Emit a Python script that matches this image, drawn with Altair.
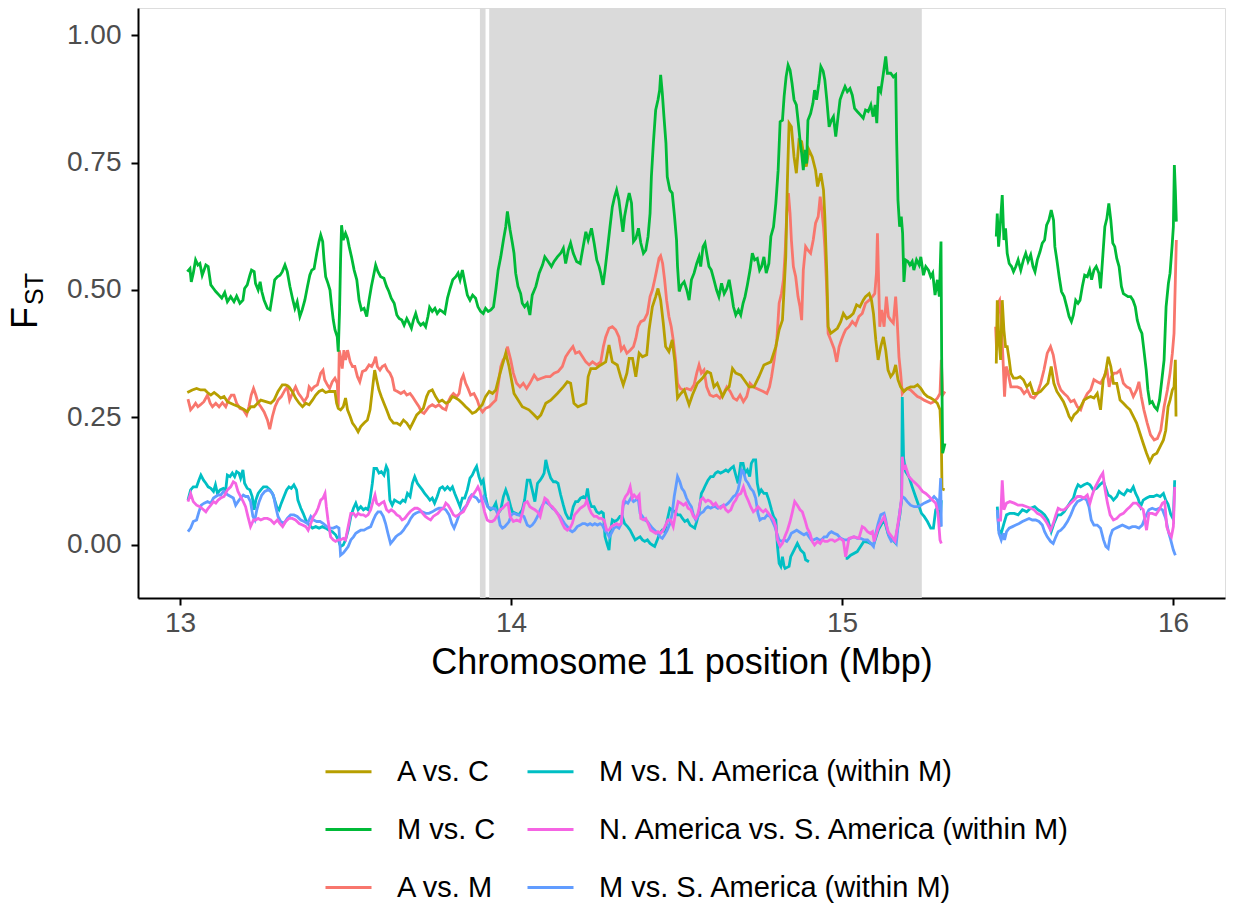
import altair as alt
import pandas as pd

# ---------------- data ----------------
SERIES = ["A vs. C", "M vs. C", "A vs. M",
          "M vs. N. America (within M)", "N. America vs. S. America (within M)",
          "M vs. S. America (within M)"]
COLORS = ["#B79F00", "#00BA38", "#F8766D", "#00BFC4", "#F564E3", "#619CFF"]
DRAW_ORDER = ["A vs. M", "A vs. C", "M vs. C", "M vs. N. America (within M)",
              "M vs. S. America (within M)", "N. America vs. S. America (within M)"]

SHADE_START = [13.906, 13.934]
SHADE_END = [13.923, 15.241]

X_TICKS = [13, 14, 15, 16]
Y_TICKS = [0.0, 0.25, 0.5, 0.75, 1.0]
X_DOMAIN = [12.873, 16.157]
Y_DOMAIN = [-0.104, 1.053]

# (position Mbp, Fst); None marks a gap in the series
M_VS_C = [(13.022,0.536),(13.030,0.542),(13.034,0.516),(13.040,0.533),(13.047,0.559),(13.054,0.549),(13.060,0.552),(13.067,0.529),(13.078,0.549),(13.085,0.546),(13.093,0.510),(13.101,0.503),(13.108,0.497),(13.118,0.490),(13.126,0.484),(13.135,0.495),(13.143,0.477),(13.153,0.487),(13.163,0.477),(13.171,0.488),(13.181,0.474),(13.190,0.480),(13.195,0.503),(13.203,0.510),(13.211,0.529),(13.216,0.539),(13.224,0.536),(13.228,0.513),(13.236,0.500),(13.242,0.516),(13.247,0.497),(13.254,0.480),(13.264,0.464),(13.272,0.461),(13.279,0.490),(13.286,0.520),(13.294,0.526),(13.302,0.529),(13.309,0.536),(13.317,0.549),(13.324,0.536),(13.332,0.507),(13.341,0.480),(13.347,0.464),(13.354,0.477),(13.362,0.448),(13.369,0.461),(13.377,0.480),(13.385,0.507),(13.392,0.529),(13.398,0.539),(13.405,0.542),(13.413,0.572),(13.420,0.595),(13.425,0.608),(13.431,0.595),(13.435,0.559),(13.440,0.526),(13.447,0.513),(13.453,0.500),(13.457,0.474),(13.463,0.441),(13.468,0.422),(13.475,0.408),(13.478,0.379),(13.482,0.461),(13.485,0.559),(13.488,0.627),(13.493,0.598),(13.500,0.611),(13.506,0.601),(13.511,0.585),(13.518,0.565),(13.526,0.539),(13.534,0.520),(13.541,0.480),(13.548,0.461),(13.556,0.464),(13.564,0.448),(13.571,0.480),(13.578,0.507),(13.584,0.526),(13.591,0.549),(13.598,0.536),(13.606,0.526),(13.616,0.523),(13.624,0.507),(13.631,0.497),(13.638,0.484),(13.647,0.474),(13.655,0.451),(13.662,0.444),(13.670,0.441),(13.677,0.431),(13.685,0.444),(13.692,0.435),(13.699,0.425),(13.705,0.441),(13.712,0.454),(13.719,0.438),(13.727,0.431),(13.735,0.435),(13.742,0.428),(13.749,0.448),(13.754,0.466),(13.762,0.458),(13.770,0.464),(13.777,0.454),(13.785,0.461),(13.792,0.458),(13.800,0.454),(13.808,0.484),(13.816,0.503),(13.824,0.520),(13.833,0.526),(13.840,0.533),(13.846,0.520),(13.853,0.539),(13.860,0.516),(13.868,0.490),(13.876,0.480),(13.884,0.490),(13.893,0.484),(13.900,0.467),(13.908,0.458),(13.916,0.454),(13.923,0.464),(13.931,0.458),(13.939,0.461),(13.947,0.467),(13.954,0.500),(13.961,0.539),(13.969,0.565),(13.977,0.598),(13.984,0.624),(13.989,0.654),
(13.997,0.618),(14.004,0.592),(14.009,0.572),(14.014,0.533),(14.021,0.507),(14.029,0.493),(14.034,0.474),(14.041,0.467),(14.049,0.474),(14.057,0.451),(14.064,0.490),(14.075,0.507),(14.085,0.533),(14.095,0.549),(14.102,0.565),(14.112,0.556),(14.122,0.546),(14.130,0.556),(14.140,0.565),(14.150,0.572),(14.158,0.582),(14.165,0.552),(14.173,0.578),(14.180,0.592),(14.188,0.572),(14.198,0.556),(14.209,0.552),(14.216,0.578),(14.226,0.614),(14.233,0.598),(14.243,0.621),(14.251,0.592),(14.259,0.559),(14.266,0.546),(14.271,0.533),(14.278,0.510),(14.284,0.539),(14.291,0.578),(14.299,0.624),(14.306,0.663),(14.313,0.683),(14.319,0.696),(14.326,0.676),(14.331,0.650),(14.338,0.614),(14.343,0.644),(14.352,0.676),(14.357,0.690),(14.364,0.670),(14.370,0.595),(14.377,0.601),(14.385,0.621),(14.392,0.592),(14.400,0.572),(14.407,0.578),(14.414,0.605),(14.420,0.650),(14.424,0.722),(14.430,0.788),(14.437,0.853),(14.444,0.873),(14.449,0.892),(14.452,0.922),(14.457,0.886),(14.462,0.840),(14.468,0.788),(14.472,0.722),(14.480,0.696),(14.487,0.690),(14.494,0.644),(14.500,0.598),(14.503,0.546),(14.508,0.497),(14.515,0.510),(14.523,0.516),(14.531,0.500),(14.538,0.480),(14.545,0.520),(14.553,0.533),(14.561,0.552),(14.568,0.565),(14.573,0.546),(14.580,0.585),(14.586,0.592),(14.591,0.572),(14.598,0.546),(14.605,0.539),(14.613,0.520),(14.621,0.500),(14.628,0.487),(14.636,0.513),(14.644,0.493),(14.652,0.503),(14.659,0.520),(14.666,0.493),(14.672,0.467),(14.679,0.451),(14.687,0.461),(14.694,0.451),(14.701,0.474),(14.707,0.487),(14.714,0.510),(14.722,0.539),(14.729,0.572),(14.736,0.559),(14.744,0.562),(14.751,0.539),(14.757,0.546),(14.764,0.565),(14.771,0.533),(14.779,0.552),(14.785,0.605),(14.793,0.624),(14.800,0.670),(14.807,0.735),(14.813,0.830),(14.820,0.833),(14.825,0.879),(14.831,0.918),(14.837,0.941),(14.843,0.931),(14.849,0.905),(14.855,0.873),(14.862,0.863),(14.868,0.827),(14.873,0.794),(14.878,0.768),(14.883,0.735),(14.888,0.775),(14.893,0.748),(14.897,0.833),(14.905,0.846),(14.912,0.866),(14.917,0.892),(14.923,0.873),(14.930,0.905),(14.936,0.938),(14.943,0.929),(14.948,0.912),(14.954,0.873),(14.961,0.820),(14.968,0.833),(14.974,0.840),(14.981,0.801),
(14.988,0.840),(14.994,0.873),(15.001,0.886),(15.009,0.899),(15.016,0.889),(15.024,0.895),(15.031,0.882),(15.038,0.856),(15.046,0.850),(15.056,0.843),(15.064,0.837),(15.071,0.853),(15.079,0.850),(15.087,0.863),(15.094,0.840),(15.100,0.863),(15.105,0.827),(15.110,0.899),(15.117,0.889),(15.125,0.925),(15.132,0.958),(15.137,0.925),(15.147,0.925),(15.155,0.918),(15.162,0.922),(15.165,0.794),(15.169,0.676),(15.174,0.624),(15.179,0.644),(15.183,0.611),(15.187,0.516),(15.192,0.559),(15.199,0.556),(15.205,0.549),(15.212,0.556),(15.217,0.539),(15.225,0.559),(15.233,0.549),(15.238,0.565),(15.246,0.529),(15.253,0.546),(15.261,0.539),(15.268,0.526),(15.274,0.533),(15.281,0.490),(15.288,0.520),(15.294,0.487),(15.299,0.595),(15.301,0.369),(15.304,0.180),(15.311,0.199),
None,
(15.466,0.605),(15.469,0.650),(15.473,0.585),(15.477,0.618),(15.484,0.686),(15.489,0.598),(15.494,0.621),(15.499,0.572),(15.505,0.552),(15.512,0.546),(15.518,0.536),(15.525,0.546),(15.532,0.559),(15.540,0.539),(15.548,0.559),(15.555,0.572),(15.562,0.556),(15.570,0.569),(15.577,0.546),(15.583,0.536),(15.590,0.559),(15.598,0.575),(15.605,0.592),(15.612,0.598),(15.618,0.627),(15.625,0.637),(15.632,0.657),(15.639,0.637),(15.643,0.585),(15.649,0.559),(15.656,0.526),(15.663,0.497),(15.671,0.487),(15.679,0.467),(15.686,0.448),(15.693,0.438),(15.699,0.451),(15.706,0.480),(15.713,0.474),(15.719,0.480),(15.726,0.507),(15.733,0.529),(15.741,0.526),(15.748,0.539),(15.754,0.520),(15.761,0.539),(15.768,0.546),(15.776,0.533),(15.781,0.503),(15.787,0.559),(15.794,0.624),(15.800,0.640),(15.806,0.670),(15.812,0.637),(15.818,0.592),(15.824,0.585),(15.830,0.562),(15.837,0.546),(15.844,0.507),(15.850,0.493),(15.857,0.490),(15.864,0.487),(15.872,0.487),(15.879,0.480),(15.886,0.467),(15.892,0.441),(15.899,0.425),(15.906,0.415),(15.912,0.382),(15.919,0.343),(15.924,0.304),(15.930,0.278),(15.937,0.281),(15.944,0.271),(15.952,0.265),(15.959,0.284),(15.965,0.317),(15.973,0.363),(15.979,0.467),(15.986,0.513),(15.991,0.533),(15.997,0.585),(16.001,0.624),(16.004,0.745),(16.007,0.696),(16.010,0.634)]

A_VS_C = [(13.022,0.299),(13.037,0.304),(13.050,0.307),(13.062,0.304),(13.075,0.304),(13.083,0.299),(13.093,0.294),(13.103,0.299),(13.113,0.294),(13.123,0.288),(13.133,0.291),(13.143,0.281),(13.153,0.278),(13.163,0.275),(13.178,0.271),(13.193,0.266),(13.203,0.261),(13.214,0.271),(13.224,0.271),(13.234,0.278),(13.244,0.284),(13.259,0.281),(13.274,0.278),(13.284,0.284),(13.296,0.301),(13.309,0.314),(13.319,0.314),(13.329,0.310),(13.339,0.301),(13.349,0.288),(13.360,0.278),(13.370,0.271),(13.380,0.278),(13.390,0.275),(13.400,0.284),(13.410,0.294),(13.420,0.301),(13.430,0.304),(13.440,0.299),(13.450,0.301),(13.460,0.301),(13.468,0.301),(13.473,0.278),(13.478,0.268),(13.485,0.265),(13.493,0.271),(13.500,0.288),(13.506,0.265),(13.514,0.252),(13.521,0.239),(13.529,0.232),(13.538,0.222),(13.546,0.232),(13.556,0.239),(13.566,0.245),(13.574,0.265),(13.581,0.304),(13.588,0.343),(13.594,0.324),(13.601,0.304),(13.608,0.291),(13.616,0.278),(13.624,0.265),(13.634,0.248),(13.645,0.239),(13.655,0.239),(13.665,0.235),(13.675,0.245),(13.685,0.239),(13.695,0.229),(13.705,0.242),(13.715,0.255),(13.725,0.261),(13.735,0.268),(13.745,0.291),(13.752,0.301),(13.762,0.304),(13.772,0.291),(13.782,0.281),(13.792,0.284),(13.803,0.278),(13.813,0.281),(13.823,0.291),(13.833,0.288),(13.843,0.284),(13.853,0.278),(13.863,0.271),(13.873,0.265),(13.883,0.258),(13.893,0.261),(13.903,0.268),(13.913,0.275),(13.923,0.291),(13.934,0.301),(13.944,0.297),(13.954,0.304),(13.964,0.330),(13.974,0.353),(13.984,0.376),(13.994,0.350),
(14.009,0.297),(14.034,0.271),(14.054,0.265),(14.070,0.255),(14.080,0.248),(14.090,0.255),(14.105,0.278),(14.120,0.284),(14.140,0.297),(14.158,0.310),(14.170,0.320),(14.180,0.317),(14.190,0.278),(14.202,0.271),(14.216,0.275),(14.226,0.278),(14.233,0.330),(14.241,0.346),(14.256,0.346),(14.271,0.353),(14.286,0.359),(14.296,0.392),(14.306,0.359),(14.321,0.353),(14.331,0.330),(14.339,0.314),(14.350,0.337),(14.357,0.366),(14.367,0.366),(14.377,0.330),(14.387,0.376),(14.397,0.369),(14.410,0.373),(14.417,0.422),(14.427,0.467),(14.437,0.487),(14.444,0.503),(14.452,0.480),(14.460,0.435),(14.467,0.389),(14.477,0.379),(14.487,0.402),(14.495,0.359),(14.503,0.288),(14.513,0.297),(14.523,0.304),(14.538,0.275),(14.548,0.294),(14.563,0.317),(14.578,0.327),(14.593,0.340),(14.603,0.337),(14.613,0.310),(14.623,0.317),(14.639,0.291),(14.649,0.304),(14.659,0.310),(14.669,0.346),(14.679,0.337),(14.694,0.333),(14.704,0.324),(14.719,0.310),(14.734,0.310),(14.749,0.330),(14.764,0.353),(14.785,0.359),(14.800,0.389),(14.810,0.422),(14.820,0.441),(14.830,0.565),(14.835,0.716),(14.840,0.827),(14.847,0.820),(14.855,0.761),(14.862,0.729),(14.870,0.794),(14.878,0.791),(14.885,0.761),(14.892,0.742),(14.900,0.775),(14.910,0.761),(14.920,0.735),(14.926,0.703),(14.936,0.729),(14.944,0.696),(14.948,0.644),(14.954,0.533),(14.958,0.428),(14.966,0.415),(14.976,0.420),(14.986,0.425),(14.996,0.438),
(15.004,0.454),(15.014,0.444),(15.024,0.448),(15.034,0.454),(15.044,0.471),(15.054,0.467),(15.064,0.480),(15.071,0.487),(15.082,0.493),(15.089,0.480),(15.095,0.454),(15.102,0.402),(15.109,0.363),(15.117,0.389),(15.125,0.408),(15.132,0.382),(15.139,0.343),(15.147,0.330),(15.155,0.337),(15.162,0.353),(15.169,0.324),(15.177,0.310),(15.187,0.301),(15.197,0.307),(15.207,0.310),(15.218,0.310),(15.228,0.314),(15.238,0.307),(15.248,0.297),(15.258,0.291),(15.268,0.288),(15.278,0.284),(15.288,0.278),(15.296,0.265),(15.300,0.206),(15.302,0.110),(15.310,0.108),
None,
(15.466,0.356),(15.469,0.480),(15.474,0.402),(15.479,0.363),(15.484,0.480),(15.489,0.422),(15.494,0.389),(15.499,0.389),(15.505,0.363),(15.510,0.337),(15.518,0.327),(15.528,0.327),(15.538,0.330),(15.548,0.324),(15.558,0.310),(15.568,0.317),(15.578,0.297),(15.588,0.297),(15.600,0.301),(15.612,0.310),(15.622,0.317),(15.632,0.350),(15.640,0.317),(15.649,0.301),(15.659,0.291),(15.669,0.281),(15.679,0.265),(15.686,0.252),(15.693,0.245),(15.701,0.255),(15.711,0.261),(15.721,0.271),(15.731,0.284),(15.741,0.288),(15.751,0.291),(15.761,0.288),(15.771,0.297),(15.781,0.265),(15.789,0.324),(15.796,0.337),(15.804,0.369),(15.812,0.350),(15.820,0.317),(15.830,0.317),(15.840,0.284),(15.850,0.278),(15.860,0.271),(15.870,0.265),(15.880,0.252),(15.890,0.239),(15.900,0.219),(15.910,0.199),(15.920,0.180),(15.930,0.163),(15.940,0.176),(15.951,0.180),(15.961,0.193),(15.971,0.206),(15.978,0.225),(15.985,0.271),(15.991,0.284),(15.998,0.304),(16.003,0.310),(16.007,0.363),(16.009,0.252)]

A_VS_M = [(13.024,0.286),(13.032,0.265),(13.040,0.271),(13.047,0.278),(13.054,0.271),(13.062,0.275),(13.072,0.281),(13.083,0.294),(13.091,0.278),(13.098,0.271),(13.108,0.278),(13.118,0.271),(13.128,0.279),(13.138,0.271),(13.146,0.284),(13.155,0.294),(13.163,0.294),(13.171,0.278),(13.181,0.268),(13.191,0.265),(13.201,0.255),(13.208,0.271),(13.215,0.294),(13.222,0.307),(13.229,0.294),(13.236,0.278),(13.244,0.271),(13.254,0.261),(13.264,0.245),(13.271,0.227),(13.279,0.252),(13.287,0.271),(13.296,0.284),(13.306,0.291),(13.317,0.304),(13.324,0.310),(13.331,0.284),(13.339,0.297),(13.349,0.310),(13.358,0.297),(13.365,0.291),(13.375,0.281),(13.385,0.291),(13.390,0.310),(13.397,0.304),(13.405,0.310),(13.415,0.314),(13.425,0.337),(13.432,0.343),(13.437,0.324),(13.445,0.314),(13.452,0.307),(13.460,0.320),(13.468,0.327),(13.475,0.317),(13.478,0.271),(13.481,0.382),(13.485,0.369),(13.490,0.346),(13.495,0.382),(13.500,0.363),(13.506,0.382),(13.514,0.359),(13.521,0.350),(13.528,0.350),(13.536,0.330),(13.543,0.320),(13.551,0.340),(13.561,0.343),(13.571,0.353),(13.579,0.350),(13.586,0.359),(13.591,0.369),(13.596,0.350),(13.604,0.343),(13.611,0.350),(13.619,0.353),(13.626,0.343),(13.634,0.337),(13.641,0.327),(13.648,0.304),(13.657,0.301),(13.667,0.297),(13.677,0.301),(13.685,0.294),(13.695,0.297),(13.702,0.291),(13.712,0.281),(13.722,0.271),(13.729,0.261),(13.737,0.258),(13.745,0.265),(13.752,0.271),(13.762,0.275),(13.772,0.271),(13.782,0.275),(13.793,0.268),(13.803,0.265),(13.810,0.281),(13.818,0.291),(13.826,0.297),(13.836,0.291),(13.843,0.297),(13.850,0.324),(13.856,0.333),(13.863,0.317),(13.870,0.307),(13.878,0.294),(13.888,0.297),(13.898,0.284),(13.906,0.268),(13.914,0.261),(13.923,0.268),(13.934,0.271),(13.944,0.278),(13.954,0.284),(13.962,0.317),(13.969,0.350),(13.976,0.363),(13.984,0.369),(13.989,0.389),
(13.999,0.363),(14.007,0.337),(14.017,0.317),(14.027,0.310),(14.037,0.317),(14.047,0.307),(14.057,0.317),(14.070,0.333),(14.080,0.324),(14.092,0.327),(14.105,0.330),(14.118,0.330),(14.130,0.337),(14.142,0.340),(14.155,0.350),(14.165,0.369),(14.175,0.379),(14.187,0.389),(14.195,0.376),(14.206,0.379),(14.216,0.369),(14.226,0.359),(14.236,0.353),(14.246,0.359),(14.259,0.353),(14.271,0.359),(14.279,0.389),(14.286,0.408),(14.296,0.425),(14.306,0.428),(14.316,0.422),(14.326,0.408),(14.333,0.382),(14.341,0.389),(14.350,0.376),(14.360,0.382),(14.370,0.389),(14.377,0.405),(14.384,0.428),(14.392,0.438),(14.402,0.441),(14.412,0.454),(14.420,0.487),(14.427,0.500),(14.434,0.520),(14.440,0.539),(14.447,0.562),(14.452,0.567),(14.458,0.552),(14.464,0.520),(14.470,0.480),(14.477,0.448),(14.484,0.428),(14.490,0.402),(14.497,0.363),(14.503,0.317),(14.511,0.307),(14.521,0.304),(14.531,0.307),(14.543,0.304),(14.553,0.314),(14.561,0.337),(14.568,0.353),(14.575,0.337),(14.583,0.343),(14.591,0.310),(14.601,0.294),(14.611,0.291),(14.621,0.294),(14.631,0.288),(14.642,0.297),(14.652,0.310),(14.662,0.301),(14.672,0.288),(14.682,0.284),(14.692,0.294),(14.702,0.281),(14.712,0.291),(14.722,0.317),(14.732,0.310),(14.742,0.307),(14.752,0.304),(14.762,0.301),(14.773,0.297),(14.781,0.310),(14.787,0.330),(14.795,0.363),(14.803,0.402),(14.810,0.474),(14.817,0.493),(14.823,0.520),(14.828,0.572),(14.833,0.650),(14.838,0.690),(14.843,0.650),(14.847,0.598),(14.853,0.546),(14.860,0.526),(14.867,0.487),(14.873,0.467),(14.878,0.441),(14.883,0.539),(14.890,0.585),(14.897,0.578),(14.905,0.572),(14.913,0.598),(14.920,0.631),(14.928,0.644),(14.934,0.683),(14.938,0.663),(14.944,0.624),(14.948,0.585),(14.953,0.513),(14.958,0.415),(14.966,0.402),(14.976,0.385),(14.984,0.359),(14.991,0.388),(14.998,0.402),
(15.006,0.415),(15.011,0.422),(15.021,0.428),(15.031,0.438),(15.041,0.431),(15.051,0.448),(15.061,0.454),(15.071,0.474),(15.082,0.480),(15.092,0.487),(15.099,0.493),(15.104,0.533),(15.107,0.611),(15.110,0.533),(15.114,0.428),(15.120,0.461),(15.127,0.428),(15.134,0.487),(15.140,0.448),(15.147,0.441),(15.155,0.435),(15.162,0.487),(15.167,0.435),(15.172,0.369),(15.177,0.337),(15.182,0.297),(15.189,0.304),(15.197,0.307),(15.207,0.304),(15.218,0.297),(15.228,0.291),(15.238,0.288),(15.248,0.284),(15.258,0.281),(15.268,0.278),(15.278,0.281),(15.288,0.288),(15.296,0.297),(15.300,0.363),(15.304,0.294),(15.311,0.301),
None,
(15.464,0.428),(15.467,0.382),(15.471,0.474),(15.476,0.480),(15.481,0.435),(15.486,0.369),(15.491,0.291),(15.496,0.350),(15.502,0.337),(15.510,0.310),(15.520,0.310),(15.530,0.310),(15.540,0.307),(15.550,0.297),(15.560,0.304),(15.570,0.291),(15.580,0.288),(15.590,0.297),(15.600,0.317),(15.610,0.343),(15.620,0.376),(15.630,0.389),(15.638,0.373),(15.646,0.343),(15.653,0.317),(15.661,0.304),(15.671,0.297),(15.681,0.291),(15.691,0.281),(15.701,0.284),(15.711,0.271),(15.721,0.265),(15.731,0.284),(15.741,0.297),(15.751,0.304),(15.761,0.324),(15.771,0.320),(15.781,0.317),(15.792,0.330),(15.800,0.346),(15.807,0.310),(15.814,0.330),(15.822,0.337),(15.830,0.337),(15.840,0.343),(15.850,0.317),(15.860,0.310),(15.870,0.307),(15.880,0.291),(15.890,0.304),(15.897,0.320),(15.904,0.291),(15.912,0.265),(15.922,0.239),(15.932,0.216),(15.943,0.206),(15.953,0.209),(15.963,0.225),(15.973,0.271),(15.983,0.304),(15.991,0.337),(15.998,0.376),(16.003,0.415),(16.007,0.520),(16.010,0.598)]

M_VS_NAM = [(13.024,0.088),(13.032,0.108),(13.040,0.114),(13.050,0.114),(13.057,0.127),(13.063,0.137),(13.071,0.127),(13.078,0.121),(13.085,0.114),(13.093,0.111),(13.101,0.105),(13.107,0.118),(13.113,0.101),(13.121,0.108),(13.131,0.111),(13.138,0.108),(13.143,0.137),(13.151,0.134),(13.158,0.141),(13.165,0.134),(13.171,0.144),(13.178,0.141),(13.183,0.131),(13.190,0.147),(13.195,0.121),(13.203,0.111),(13.211,0.108),(13.218,0.095),(13.224,0.069),(13.229,0.088),(13.236,0.101),(13.244,0.108),(13.252,0.114),(13.262,0.114),(13.272,0.108),(13.279,0.101),(13.284,0.092),(13.292,0.075),(13.299,0.069),(13.306,0.082),(13.314,0.095),(13.322,0.108),(13.329,0.114),(13.336,0.111),(13.344,0.118),(13.352,0.108),(13.356,0.088),(13.365,0.072),(13.372,0.062),(13.380,0.049),(13.390,0.039),(13.400,0.033),(13.410,0.036),(13.420,0.033),(13.430,0.036),(13.440,0.033),(13.450,0.029),(13.460,0.026),(13.470,0.020),(13.478,0.010),(13.485,-0.003),(13.493,0.000),(13.500,0.010),(13.508,0.029),(13.516,0.056),(13.524,0.072),(13.531,0.082),(13.538,0.069),(13.546,0.075),(13.554,0.069),(13.561,0.072),(13.568,0.069),(13.574,0.088),(13.581,0.121),(13.586,0.150),(13.594,0.150),(13.601,0.141),(13.608,0.144),(13.616,0.137),(13.623,0.154),(13.628,0.147),(13.634,0.088),(13.641,0.078),(13.648,0.088),(13.656,0.085),(13.665,0.082),(13.673,0.088),(13.680,0.085),(13.687,0.101),(13.695,0.095),(13.702,0.121),(13.709,0.134),(13.717,0.121),(13.725,0.114),(13.732,0.108),(13.739,0.101),(13.747,0.095),(13.755,0.088),(13.762,0.092),(13.769,0.082),(13.777,0.095),(13.785,0.111),(13.793,0.114),(13.800,0.108),(13.808,0.114),(13.816,0.108),(13.823,0.114),(13.830,0.101),(13.838,0.088),(13.846,0.075),(13.853,0.092),(13.860,0.092),(13.868,0.108),(13.876,0.131),(13.883,0.137),(13.890,0.147),(13.896,0.154),(13.903,0.134),(13.910,0.121),(13.916,0.127),(13.923,0.095),(13.930,0.075),(13.938,0.069),(13.946,0.072),(13.954,0.082),(13.961,0.062),(13.969,0.069),(13.977,0.095),(13.984,0.108),(13.991,0.095),(13.999,0.075),
(14.004,0.065),(14.014,0.062),(14.024,0.059),(14.034,0.069),(14.041,0.088),(14.049,0.127),(14.057,0.127),(14.064,0.108),(14.072,0.085),(14.080,0.121),(14.088,0.127),(14.095,0.134),(14.100,0.141),(14.105,0.167),(14.112,0.147),(14.120,0.131),(14.128,0.124),(14.135,0.124),(14.142,0.121),(14.150,0.098),(14.158,0.078),(14.165,0.062),(14.173,0.052),(14.180,0.052),(14.188,0.075),(14.195,0.085),(14.202,0.085),(14.210,0.092),(14.219,0.095),(14.226,0.092),(14.231,0.111),(14.236,0.088),(14.243,0.075),(14.251,0.075),(14.259,0.065),(14.266,0.062),(14.273,0.065),(14.279,0.062),(14.284,0.016),(14.291,0.000),(14.296,-0.010),(14.301,0.029),(14.306,0.049),(14.313,0.046),(14.321,0.049),(14.329,0.056),(14.336,0.056),(14.343,0.042),(14.352,0.036),(14.360,0.029),(14.367,0.020),(14.375,0.010),(14.382,0.013),(14.390,0.016),(14.397,0.010),(14.404,0.007),(14.412,0.010),(14.420,0.003),(14.427,0.000),(14.434,-0.003),(14.442,0.010),(14.449,0.023),(14.457,0.029),(14.464,0.026),(14.472,0.049),(14.480,0.072),(14.487,0.069),(14.495,0.065),(14.503,0.059),(14.511,0.059),(14.518,0.052),(14.525,0.046),(14.533,0.049),(14.541,0.039),(14.548,0.036),(14.555,0.033),(14.561,0.046),(14.568,0.065),(14.575,0.101),(14.581,0.108),(14.588,0.118),(14.595,0.127),(14.603,0.134),(14.611,0.134),(14.618,0.141),(14.625,0.144),(14.633,0.141),(14.642,0.144),(14.649,0.147),(14.656,0.144),(14.664,0.150),(14.672,0.154),(14.679,0.137),(14.686,0.121),(14.694,0.160),(14.701,0.160),(14.707,0.141),(14.714,0.147),(14.721,0.134),(14.726,0.160),(14.732,0.167),(14.739,0.167),(14.744,0.121),(14.750,0.101),(14.756,0.108),(14.764,0.101),(14.772,0.101),(14.779,0.088),(14.787,0.069),(14.793,0.056),(14.800,0.049),(14.805,-0.003),(14.810,-0.036),(14.815,-0.042),(14.820,-0.023),(14.825,-0.042),(14.828,-0.046),(14.840,-0.042),(14.845,-0.023),(14.855,-0.010),(14.865,0.003),(14.875,-0.010),(14.885,-0.016),(14.890,-0.029),(14.900,-0.033),
None,
(15.011,-0.026),(15.016,-0.026),(15.026,-0.020),(15.046,-0.013),(15.056,-0.003),(15.066,0.007),(15.080,0.005),(15.095,0.000),(15.110,0.030),(15.127,0.050),(15.140,0.020),(15.160,0.005),(15.175,0.060),(15.180,0.090),(15.182,0.290),(15.186,0.170),(15.192,0.144),(15.202,0.134),(15.212,0.114),(15.222,0.095),(15.233,0.075),(15.240,0.062),(15.248,0.056),(15.258,0.046),(15.268,0.033),(15.276,0.033),(15.283,0.069),(15.290,0.075),(15.296,0.036),(15.300,0.088),
None,
(15.469,0.075),(15.474,0.029),(15.481,0.023),(15.489,0.042),(15.497,0.059),(15.507,0.062),(15.520,0.062),(15.532,0.059),(15.545,0.069),(15.558,0.065),(15.570,0.072),(15.582,0.075),(15.592,0.069),(15.602,0.065),(15.612,0.059),(15.622,0.049),(15.632,0.026),(15.640,0.042),(15.651,0.059),(15.661,0.059),(15.671,0.065),(15.681,0.075),(15.691,0.085),(15.699,0.092),(15.706,0.108),(15.713,0.118),(15.721,0.114),(15.731,0.118),(15.741,0.121),(15.749,0.118),(15.759,0.108),(15.769,0.111),(15.779,0.118),(15.790,0.124),(15.797,0.111),(15.804,0.098),(15.812,0.095),(15.820,0.088),(15.830,0.095),(15.837,0.105),(15.844,0.101),(15.852,0.098),(15.862,0.108),(15.872,0.105),(15.880,0.114),(15.887,0.101),(15.894,0.092),(15.902,0.075),(15.910,0.088),(15.920,0.092),(15.930,0.095),(15.941,0.095),(15.951,0.098),(15.961,0.095),(15.971,0.101),(15.978,0.088),(15.985,0.080),(15.993,0.060),(16.001,0.050),(16.005,0.127)]

NAM_VS_SAM = [(13.024,0.085),(13.032,0.101),(13.040,0.085),(13.050,0.078),(13.060,0.075),(13.071,0.069),(13.078,0.065),(13.085,0.072),(13.093,0.078),(13.101,0.085),(13.108,0.082),(13.115,0.088),(13.123,0.092),(13.133,0.095),(13.143,0.108),(13.153,0.114),(13.161,0.124),(13.168,0.121),(13.175,0.105),(13.183,0.095),(13.191,0.085),(13.198,0.075),(13.205,0.056),(13.213,0.036),(13.222,0.049),(13.229,0.049),(13.236,0.052),(13.244,0.049),(13.254,0.052),(13.264,0.052),(13.274,0.049),(13.284,0.042),(13.294,0.049),(13.302,0.042),(13.310,0.036),(13.319,0.046),(13.329,0.052),(13.339,0.052),(13.349,0.049),(13.360,0.042),(13.370,0.039),(13.380,0.036),(13.387,0.029),(13.395,0.042),(13.403,0.056),(13.410,0.062),(13.417,0.072),(13.425,0.088),(13.432,0.092),(13.438,0.101),(13.442,0.075),(13.447,0.049),(13.455,0.016),(13.463,0.010),(13.470,0.007),(13.478,0.010),(13.485,0.010),(13.493,0.013),(13.500,0.010),(13.508,0.036),(13.516,0.062),(13.524,0.062),(13.531,0.056),(13.538,0.062),(13.546,0.059),(13.554,0.059),(13.561,0.056),(13.568,0.059),(13.576,0.069),(13.584,0.088),(13.589,0.098),(13.594,0.082),(13.601,0.078),(13.608,0.082),(13.616,0.085),(13.624,0.069),(13.631,0.065),(13.638,0.069),(13.647,0.065),(13.655,0.059),(13.663,0.056),(13.671,0.049),(13.679,0.052),(13.687,0.059),(13.695,0.065),(13.702,0.069),(13.709,0.072),(13.717,0.072),(13.725,0.069),(13.733,0.062),(13.741,0.056),(13.749,0.052),(13.757,0.049),(13.765,0.056),(13.772,0.059),(13.779,0.062),(13.788,0.069),(13.796,0.072),(13.803,0.082),(13.810,0.078),(13.818,0.069),(13.826,0.059),(13.833,0.056),(13.841,0.059),(13.848,0.062),(13.856,0.065),(13.864,0.075),(13.872,0.085),(13.880,0.095),(13.888,0.101),(13.895,0.108),(13.900,0.114),(13.906,0.105),(13.913,0.085),(13.920,0.065),(13.928,0.049),(13.936,0.046),(13.943,0.046),(13.950,0.049),(13.959,0.059),(13.967,0.069),(13.975,0.072),(13.983,0.078),(13.991,0.082),
(13.997,0.056),(14.007,0.046),(14.017,0.049),(14.027,0.046),(14.034,0.062),(14.041,0.082),(14.049,0.085),(14.057,0.075),(14.064,0.072),(14.072,0.069),(14.080,0.065),(14.088,0.056),(14.095,0.075),(14.102,0.092),(14.110,0.088),(14.118,0.078),(14.125,0.075),(14.132,0.069),(14.140,0.062),(14.148,0.052),(14.155,0.042),(14.162,0.033),(14.170,0.029),(14.178,0.033),(14.185,0.042),(14.192,0.059),(14.200,0.065),(14.209,0.072),(14.216,0.075),(14.223,0.078),(14.229,0.088),(14.236,0.072),(14.243,0.062),(14.251,0.056),(14.259,0.056),(14.266,0.052),(14.273,0.052),(14.281,0.049),(14.289,0.029),(14.296,0.029),(14.303,0.036),(14.311,0.039),(14.319,0.042),(14.326,0.039),(14.333,0.042),(14.339,0.085),(14.346,0.095),(14.353,0.101),(14.360,0.114),(14.366,0.092),(14.372,0.098),(14.380,0.092),(14.387,0.098),(14.392,0.052),(14.400,0.049),(14.407,0.052),(14.414,0.042),(14.422,0.029),(14.430,0.026),(14.437,0.023),(14.444,0.026),(14.452,0.023),(14.460,0.029),(14.467,0.039),(14.474,0.049),(14.482,0.049),(14.490,0.036),(14.498,0.065),(14.505,0.085),(14.513,0.082),(14.521,0.078),(14.528,0.082),(14.535,0.072),(14.543,0.069),(14.551,0.056),(14.558,0.052),(14.565,0.062),(14.573,0.088),(14.580,0.092),(14.588,0.085),(14.595,0.088),(14.603,0.085),(14.611,0.078),(14.618,0.082),(14.625,0.075),(14.633,0.072),(14.642,0.078),(14.649,0.069),(14.656,0.065),(14.664,0.069),(14.672,0.082),(14.679,0.088),(14.686,0.098),(14.694,0.101),(14.702,0.114),(14.709,0.098),(14.716,0.088),(14.724,0.075),(14.732,0.065),(14.739,0.069),(14.746,0.075),(14.754,0.069),(14.762,0.065),(14.769,0.069),(14.778,0.062),(14.785,0.056),(14.793,0.049),(14.800,0.036),(14.805,0.010),(14.813,-0.003),(14.820,0.003),(14.827,0.016),(14.835,0.029),(14.843,0.046),(14.850,0.065),(14.857,0.085),(14.865,0.078),(14.873,0.069),(14.880,0.065),(14.888,0.049),(14.895,0.033),(14.903,0.023),(14.910,0.007),(14.917,0.000),(14.926,0.007),(14.934,0.003),(14.941,0.010),(14.948,0.007),(14.956,0.007),(14.964,0.010),(14.971,0.010),(14.978,0.007),(14.986,0.010),(14.994,0.013),(15.004,0.008),
(15.011,-0.023),(15.021,0.013),(15.036,0.016),(15.051,0.013),(15.061,0.036),(15.068,0.033),(15.077,0.026),(15.085,0.023),(15.092,0.026),(15.097,0.007),(15.110,0.035),(15.127,0.055),(15.140,0.025),(15.160,0.008),(15.175,0.065),(15.180,0.095),(15.182,0.173),(15.186,0.150),(15.192,0.154),(15.202,0.134),(15.212,0.127),(15.222,0.121),(15.233,0.114),(15.243,0.105),(15.253,0.101),(15.263,0.095),(15.273,0.088),(15.283,0.082),(15.290,0.062),(15.296,0.010),(15.300,0.003),
None,
(15.469,0.049),(15.479,0.049),(15.484,0.127),(15.489,0.069),(15.497,0.082),(15.507,0.085),(15.520,0.082),(15.532,0.078),(15.545,0.078),(15.558,0.075),(15.570,0.072),(15.580,0.069),(15.590,0.062),(15.600,0.059),(15.610,0.052),(15.620,0.042),(15.630,0.029),(15.638,0.042),(15.646,0.059),(15.653,0.072),(15.661,0.069),(15.671,0.069),(15.681,0.075),(15.691,0.082),(15.701,0.088),(15.711,0.095),(15.721,0.095),(15.731,0.092),(15.741,0.098),(15.749,0.082),(15.756,0.098),(15.763,0.111),(15.771,0.121),(15.781,0.134),(15.788,0.141),(15.794,0.111),(15.802,0.082),(15.810,0.059),(15.820,0.049),(15.830,0.052),(15.840,0.059),(15.850,0.062),(15.860,0.069),(15.870,0.075),(15.880,0.082),(15.890,0.082),(15.900,0.075),(15.910,0.069),(15.920,0.029),(15.927,0.062),(15.937,0.062),(15.948,0.059),(15.958,0.069),(15.968,0.082),(15.975,0.085),(15.981,0.036),(15.988,0.023),(15.995,0.016),(16.001,0.036),(16.005,0.114)]

M_VS_SAM = [(13.024,0.026),(13.032,0.033),(13.040,0.046),(13.050,0.049),(13.057,0.065),(13.064,0.078),(13.073,0.082),(13.083,0.085),(13.093,0.082),(13.101,0.092),(13.108,0.095),(13.115,0.098),(13.123,0.098),(13.131,0.105),(13.138,0.101),(13.145,0.098),(13.153,0.095),(13.161,0.092),(13.168,0.078),(13.175,0.085),(13.183,0.092),(13.191,0.098),(13.198,0.095),(13.205,0.095),(13.213,0.085),(13.220,0.056),(13.226,0.049),(13.232,0.069),(13.239,0.085),(13.247,0.098),(13.256,0.105),(13.266,0.108),(13.274,0.105),(13.282,0.098),(13.289,0.075),(13.296,0.056),(13.304,0.046),(13.314,0.042),(13.324,0.052),(13.334,0.059),(13.344,0.059),(13.354,0.056),(13.365,0.049),(13.375,0.046),(13.385,0.042),(13.395,0.056),(13.403,0.049),(13.413,0.046),(13.423,0.046),(13.433,0.042),(13.443,0.036),(13.453,0.033),(13.463,0.033),(13.473,0.036),(13.480,0.033),(13.485,-0.020),(13.493,-0.016),(13.500,-0.010),(13.508,-0.003),(13.516,0.010),(13.524,0.016),(13.531,0.023),(13.538,0.026),(13.546,0.029),(13.556,0.029),(13.566,0.033),(13.576,0.036),(13.584,0.049),(13.591,0.059),(13.598,0.065),(13.606,0.065),(13.614,0.056),(13.621,0.042),(13.628,0.023),(13.636,0.003),(13.645,0.010),(13.652,0.016),(13.659,0.020),(13.667,0.023),(13.675,0.029),(13.682,0.036),(13.689,0.042),(13.697,0.052),(13.705,0.059),(13.712,0.062),(13.722,0.065),(13.732,0.065),(13.742,0.062),(13.752,0.062),(13.762,0.065),(13.772,0.069),(13.782,0.072),(13.793,0.072),(13.803,0.069),(13.813,0.059),(13.821,0.042),(13.828,0.033),(13.836,0.046),(13.843,0.059),(13.850,0.065),(13.858,0.072),(13.866,0.078),(13.874,0.092),(13.881,0.098),(13.888,0.095),(13.896,0.092),(13.903,0.085),(13.910,0.088),(13.917,0.095),(13.923,0.085),(13.930,0.075),(13.938,0.072),(13.946,0.072),(13.954,0.069),(13.961,0.059),(13.967,0.039),(13.974,0.033),(13.981,0.036),(13.989,0.042),
(13.994,0.046),(14.001,0.059),(14.009,0.062),(14.019,0.059),(14.029,0.059),(14.039,0.056),(14.049,0.039),(14.057,0.036),(14.064,0.039),(14.072,0.046),(14.080,0.056),(14.088,0.069),(14.095,0.078),(14.102,0.085),(14.110,0.082),(14.118,0.078),(14.125,0.072),(14.132,0.069),(14.140,0.062),(14.148,0.056),(14.155,0.049),(14.162,0.042),(14.170,0.036),(14.178,0.029),(14.185,0.026),(14.192,0.029),(14.200,0.036),(14.209,0.039),(14.216,0.042),(14.223,0.042),(14.231,0.039),(14.239,0.042),(14.246,0.039),(14.253,0.042),(14.261,0.039),(14.269,0.042),(14.276,0.039),(14.283,0.029),(14.291,0.023),(14.297,0.016),(14.303,0.023),(14.311,0.033),(14.319,0.036),(14.326,0.033),(14.333,0.042),(14.339,0.078),(14.346,0.085),(14.353,0.082),(14.362,0.092),(14.370,0.085),(14.377,0.088),(14.384,0.092),(14.390,0.062),(14.397,0.056),(14.404,0.049),(14.412,0.046),(14.420,0.039),(14.427,0.033),(14.434,0.029),(14.442,0.023),(14.450,0.016),(14.457,0.013),(14.464,0.020),(14.472,0.029),(14.480,0.042),(14.487,0.062),(14.493,0.095),(14.498,0.114),(14.503,0.134),(14.510,0.124),(14.516,0.111),(14.523,0.105),(14.530,0.092),(14.538,0.082),(14.545,0.075),(14.551,0.059),(14.558,0.049),(14.565,0.056),(14.573,0.062),(14.581,0.065),(14.588,0.072),(14.595,0.075),(14.603,0.072),(14.611,0.075),(14.618,0.075),(14.625,0.072),(14.633,0.075),(14.642,0.078),(14.649,0.078),(14.656,0.082),(14.664,0.088),(14.672,0.095),(14.679,0.098),(14.686,0.108),(14.692,0.127),(14.697,0.147),(14.702,0.144),(14.709,0.127),(14.716,0.121),(14.724,0.111),(14.732,0.105),(14.739,0.092),(14.746,0.062),(14.752,0.049),(14.759,0.052),(14.766,0.052),(14.774,0.059),(14.783,0.056),(14.790,0.046),(14.797,0.036),(14.803,0.023),(14.810,0.010),(14.817,0.007),(14.825,0.010),(14.833,0.007),(14.840,0.013),(14.847,0.023),(14.855,0.026),(14.863,0.029),(14.870,0.026),(14.877,0.023),(14.885,0.020),(14.893,0.023),(14.900,0.016),(14.907,0.010),(14.915,0.010),(14.924,0.013),(14.931,0.010),(14.938,0.010),(14.946,0.016),(14.954,0.016),(14.961,0.023),(14.968,0.026),(14.976,0.023),(14.986,0.020),(14.996,0.013),(15.006,0.010),(15.016,0.010),(15.026,0.013),(15.036,0.016),(15.046,0.013),(15.056,0.013),(15.066,0.010),(15.077,0.010),(15.087,0.003),(15.095,-0.003),(15.102,0.023),(15.109,0.042),(15.117,0.059),(15.127,0.062),(15.132,0.049),(15.137,0.029),(15.142,0.016),(15.149,0.007),(15.157,0.010),(15.164,0.003),(15.169,0.036),(15.175,0.069),(15.182,0.095),(15.189,0.092),(15.197,0.085),(15.207,0.078),(15.218,0.075),(15.228,0.075),(15.238,0.078),(15.248,0.082),(15.258,0.085),(15.268,0.088),(15.278,0.095),(15.288,0.088),(15.293,0.069),(15.298,0.131),(15.300,0.036),
None,
(15.469,0.069),(15.474,0.023),(15.481,0.010),(15.487,0.023),(15.491,0.010),(15.497,0.026),(15.505,0.033),(15.515,0.036),(15.525,0.039),(15.535,0.042),(15.545,0.046),(15.555,0.049),(15.565,0.052),(15.575,0.049),(15.585,0.049),(15.595,0.046),(15.605,0.039),(15.612,0.026),(15.620,0.016),(15.630,0.007),(15.638,0.003),(15.646,0.016),(15.653,0.026),(15.661,0.029),(15.671,0.036),(15.681,0.046),(15.691,0.059),(15.701,0.075),(15.711,0.085),(15.721,0.088),(15.731,0.092),(15.739,0.088),(15.746,0.075),(15.753,0.049),(15.761,0.039),(15.771,0.039),(15.781,0.033),(15.790,0.010),(15.797,-0.003),(15.804,-0.007),(15.810,0.016),(15.817,0.029),(15.827,0.033),(15.837,0.036),(15.847,0.039),(15.857,0.036),(15.867,0.033),(15.877,0.036),(15.887,0.036),(15.897,0.033),(15.907,0.039),(15.917,0.056),(15.927,0.069),(15.937,0.072),(15.948,0.069),(15.958,0.072),(15.968,0.069),(15.978,0.052),(15.986,0.026),(15.993,0.010),(16.001,-0.010),(16.007,-0.020)]

SERIES_DATA = {
    "A vs. C": A_VS_C,
    "M vs. C": M_VS_C,
    "A vs. M": A_VS_M,
    "M vs. N. America (within M)": M_VS_NAM,
    "N. America vs. S. America (within M)": NAM_VS_SAM,
    "M vs. S. America (within M)": M_VS_SAM,
}

# ---------------- build table ----------------
rows = []
for name, pts in SERIES_DATA.items():
    seg = 0
    for i, p in enumerate(pts):
        if p is None:
            seg += 1
            continue
        rows.append({"series": name, "seg": f"{name}|{seg}", "idx": i,
                     "pos": p[0], "fst": p[1]})
df = pd.DataFrame(rows)

shade = pd.DataFrame({"start": SHADE_START, "end": SHADE_END,
                      "lo": [Y_DOMAIN[0]] * 2, "hi": [Y_DOMAIN[1]] * 2})

FONT = "Liberation Sans"
W, H = 1087, 590
LW = 2.8

xscale = alt.Scale(domain=X_DOMAIN, nice=False, zero=False)
yscale = alt.Scale(domain=Y_DOMAIN, nice=False, zero=False)

xaxis = alt.Axis(values=X_TICKS, format="d", title="Chromosome 11 position (Mbp)",
                 grid=False, labelFontSize=28, labelColor="#4D4D4D", labelFont=FONT,
                 labelPadding=4, tickSize=7, tickWidth=2, tickColor="black",
                 domainColor="black", domainWidth=2, titleFont=FONT, titleFontSize=36,
                 titleFontWeight="normal", titleColor="black", titlePadding=8)
yaxis = alt.Axis(values=Y_TICKS, format=".2f", title=None, grid=False,
                 labelFontSize=28, labelColor="#4D4D4D", labelFont=FONT,
                 labelPadding=10, tickSize=7, tickWidth=2, tickColor="black",
                 domainColor="black", domainWidth=2)

legend = alt.Legend(title=None, orient="none", legendX=186, legendY=739, columns=2,
                    symbolType="stroke", symbolSize=2116, symbolStrokeWidth=LW,
                    labelFontSize=29, labelFont=FONT, labelColor="black",
                    labelOffset=24, rowPadding=18, columnPadding=25, padding=0,
                    labelLimit=1000)

color = alt.Color("series:N", scale=alt.Scale(domain=SERIES, range=COLORS), legend=legend)

rect = alt.Chart(shade).mark_rect(color="#DADADA").encode(
    x=alt.X("start:Q", scale=xscale, axis=xaxis),
    x2="end:Q",
    y=alt.Y("lo:Q", scale=yscale, axis=yaxis),
    y2="hi:Q",
)

layers = [rect]
for name in DRAW_ORDER:
    layers.append(
        alt.Chart(df).transform_filter(alt.datum.series == name)
        .mark_line(strokeWidth=LW)
        .encode(x=alt.X("pos:Q", scale=xscale, axis=xaxis),
                y=alt.Y("fst:Q", scale=yscale, axis=yaxis),
                color=color, detail="seg:N", order="idx:Q")
    )

f_text = alt.Chart(pd.DataFrame({"t": ["F"]})).mark_text(
    angle=270, fontSize=36, font=FONT, color="black", align="center",
    baseline="alphabetic").encode(x=alt.value(-101), y=alt.value(310), text="t:N")
st_text = alt.Chart(pd.DataFrame({"t": ["ST"]})).mark_text(
    angle=270, fontSize=25, font=FONT, color="black", align="center",
    baseline="alphabetic").encode(x=alt.value(-95), y=alt.value(281), text="t:N")
layers += [f_text, st_text]

chart = alt.layer(*layers).properties(
    width=W, height=H,
    autosize=alt.AutoSizeParams(type="none"),
    padding={"left": 138, "top": 8, "right": 8, "bottom": 305},
).configure_view(stroke=None).configure(background="white")

chart.save("out.html", embed_options={"renderer": "svg", "actions": False})
